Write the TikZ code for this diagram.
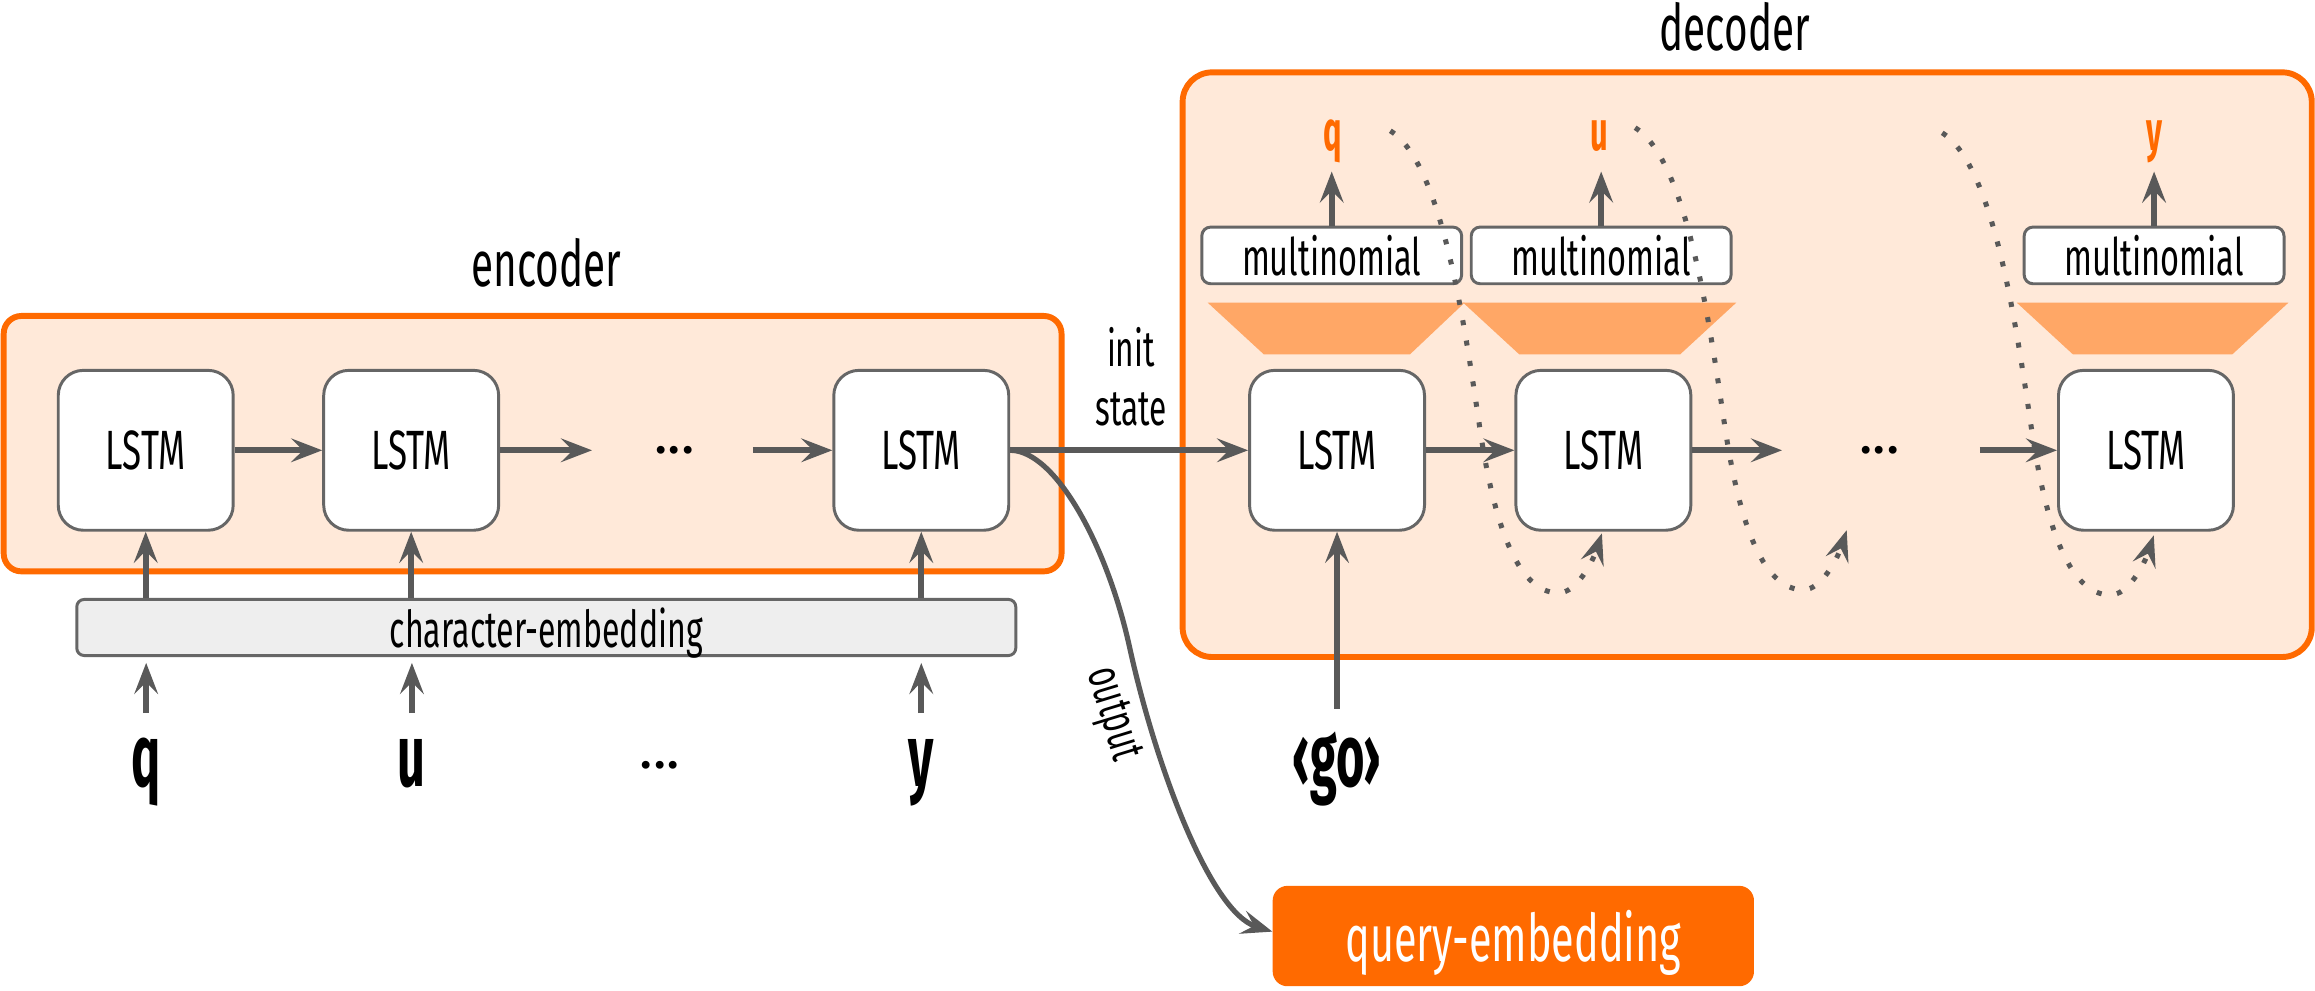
\documentclass[tikz,border=0pt]{standalone}
\usepackage{fontspec}
\setmainfont{Fira Sans}[FakeStretch=0.63]
\newfontfamily\boldf{Fira Sans}[FakeStretch=0.55]
\newfontfamily\dotf{Fira Sans}
\usetikzlibrary{arrows.meta}
\definecolor{orng}{HTML}{FF6A00}
\definecolor{peach}{HTML}{FFE9D9}
\definecolor{trap}{HTML}{FFA766}
\definecolor{agray}{HTML}{595959}
\definecolor{bgray}{HTML}{666666}
\definecolor{cegray}{HTML}{EEEEEE}
\begin{document}
\begin{tikzpicture}[x=1pt,y=-1pt,
  regionbox/.style={draw=orng, line width=4pt, fill=peach, rounded corners=#1},
  lstm/.style={draw=bgray, line width=2pt, fill=white, rounded corners=17pt, minimum width=118.5pt, minimum height=108.3pt, inner sep=0pt, font=\fontsize{37.5}{41}\selectfont},
  multi/.style={draw=bgray, line width=2pt, fill=white, rounded corners=6pt, minimum width=176pt, minimum height=38.4pt, inner sep=0pt, font=\fontsize{35}{39}\selectfont},
  cemb/.style={draw=bgray, line width=2pt, fill=cegray, rounded corners=5pt, minimum width=636pt, minimum height=38pt, inner sep=0pt, text depth=0pt, font=\fontsize{34.5}{38}\selectfont},
  qemb/.style={fill=orng, rounded corners=10pt, minimum width=326pt, minimum height=68pt, text=white, text depth=0pt, inner sep=0pt, font=\fontsize{44.5}{48}\selectfont},
  arr/.style={draw=agray, line width=4pt, -{Stealth[length=21pt,width=16pt,inset=8pt]}},
  fb/.style={draw=agray, line width=3.4pt, dash pattern=on 3.4pt off 10.6pt, -{Stealth[length=21pt,width=16pt,inset=8pt]}},
  inletter/.style={font=\boldf\bfseries\fontsize{60}{64}\selectfont, inner sep=0pt, anchor=base},
  outletter/.style={font=\boldf\bfseries\fontsize{38}{42}\selectfont, text=orng, inner sep=0pt, anchor=base},
  title/.style={font=\fontsize{43.5}{47}\selectfont, inner sep=0pt, anchor=base},
  dotsn/.style={font=\dotf\fontsize{38}{42}\selectfont, inner sep=0pt},
  fbpic/.pic={\draw[fb] (0,0) .. controls (35,22) and (50,130) .. (61,204) .. controls (70,263) and (85,313) .. (114,313) .. controls (126,313) and (137,292) .. (143.3,272.6);}
]
\fill[white] (0,0) rectangle (1568,671.2);
\useasboundingbox (0,0) rectangle (1568,671.2);

% regions
\draw[regionbox=12pt] (2.5,214) rectangle (719,387);
\draw[regionbox=20pt] (801,49) rectangle (1565.8,445);
\node[title] (enc) at (370,194) {encoder};
\node[title] (dec) at (1175,34) {decoder};

% trapezoids
\fill[trap] (818,205) -- (992,205) -- (955,240) -- (856,240) -- cycle;
\fill[trap] (991,205) -- (1176,205) -- (1138,240) -- (1029,240) -- cycle;
\fill[trap] (1366,205) -- (1550,205) -- (1512,240) -- (1404,240) -- cycle;

% encoder
\node[lstm] (e1) at (98.7,305) {LSTM};
\node[lstm] (e2) at (278.5,305) {LSTM};
\node[dotsn] (edots) at (457,305) {...};
\node[lstm] (e3) at (624,305) {LSTM};
\coordinate (e2end) at (401,305);
\coordinate (e3start) at (510,305);
\draw[arr] (e1) -- (e2);
\draw[arr] (e2.east) -- (e2end);
\draw[arr] (e3start) -- (e3.west);

\node[cemb] (ce) at (370,425) {character-embedding};
\draw[arr] (ce.north -| e1) -- (e1.south);
\draw[arr] (ce.north -| e2) -- (e2.south);
\draw[arr] (ce.north -| e3) -- (e3.south);

\node[inletter] (iq) at (99,533) {q};
\node[inletter] (iu) at (279,533) {u};
\node[dotsn] (idots) at (447,518) {...};
\node[inletter] (iy) at (624,533) {y};
\coordinate (iqs) at (99,483);
\coordinate (ius) at (279,483);
\coordinate (iys) at (624,483);
\draw[arr] (iqs) -- ([yshift=-4pt]ce.south -| iqs);
\draw[arr] (ius) -- ([yshift=-4pt]ce.south -| ius);
\draw[arr] (iys) -- ([yshift=-4pt]ce.south -| iys);

% decoder
\node[lstm] (d1) at (905.6,305) {LSTM};
\node[lstm] (d2) at (1086,305) {LSTM};
\node[dotsn] (ddots) at (1273,305) {...};
\node[lstm] (d3) at (1453.5,305) {LSTM};
\coordinate (d2end) at (1207,305);
\coordinate (d3start) at (1341,305);
\draw[arr] (d1) -- (d2);
\draw[arr] (d2.east) -- (d2end);
\draw[arr] (d3start) -- (d3.west);

\node[multi] (m1) at (902,173) {multinomial};
\node[multi] (m2) at (1084.5,173) {multinomial};
\node[multi] (m3) at (1459,173) {multinomial};
\node[outletter] (o1) at (902.5,101.6) {q};
\node[outletter] (o2) at (1083.5,101.6) {u};
\node[outletter] (o3) at (1459.4,101.6) {y};
\draw[arr] (m1.north) -- ([yshift=36.6pt]m1.north);
\draw[arr] (m2.north) -- ([yshift=36.6pt]m2.north);
\draw[arr] (m3.north) -- ([yshift=36.6pt]m3.north);

% init state
\draw[arr] (e3.east) -- (d1.west);
\node[anchor=south, inner sep=0pt, align=center, font=\fontsize{34}{40}\selectfont] (init) at (766,289) {init\\state};

% go
\node[inletter] (go) at (905.6,533) {‹go›};
\coordinate (gos) at (905.6,480);
\draw[arr] (gos) -- (d1.south);

% query embedding
\node[qemb] (qe) at (1025,634) {query-embedding};
\draw[draw=agray, line width=3.5pt, -{Stealth[length=21pt,width=16pt,inset=8pt]}] (e3.east) .. controls (715,305) and (750,370) .. (765,438) .. controls (783,520) and (820,618) .. ([yshift=3pt]qe.west);
\node[font=\fontsize{33}{37}\selectfont, rotate=-73, inner sep=0pt] (outl) at (753,484) {output};

% feedback dotted
\pic at (941.7,88.6) {fbpic};
\pic at (1107.5,86.5) {fbpic};
\pic at (1315.5,90) {fbpic};
\end{tikzpicture}
\end{document}
